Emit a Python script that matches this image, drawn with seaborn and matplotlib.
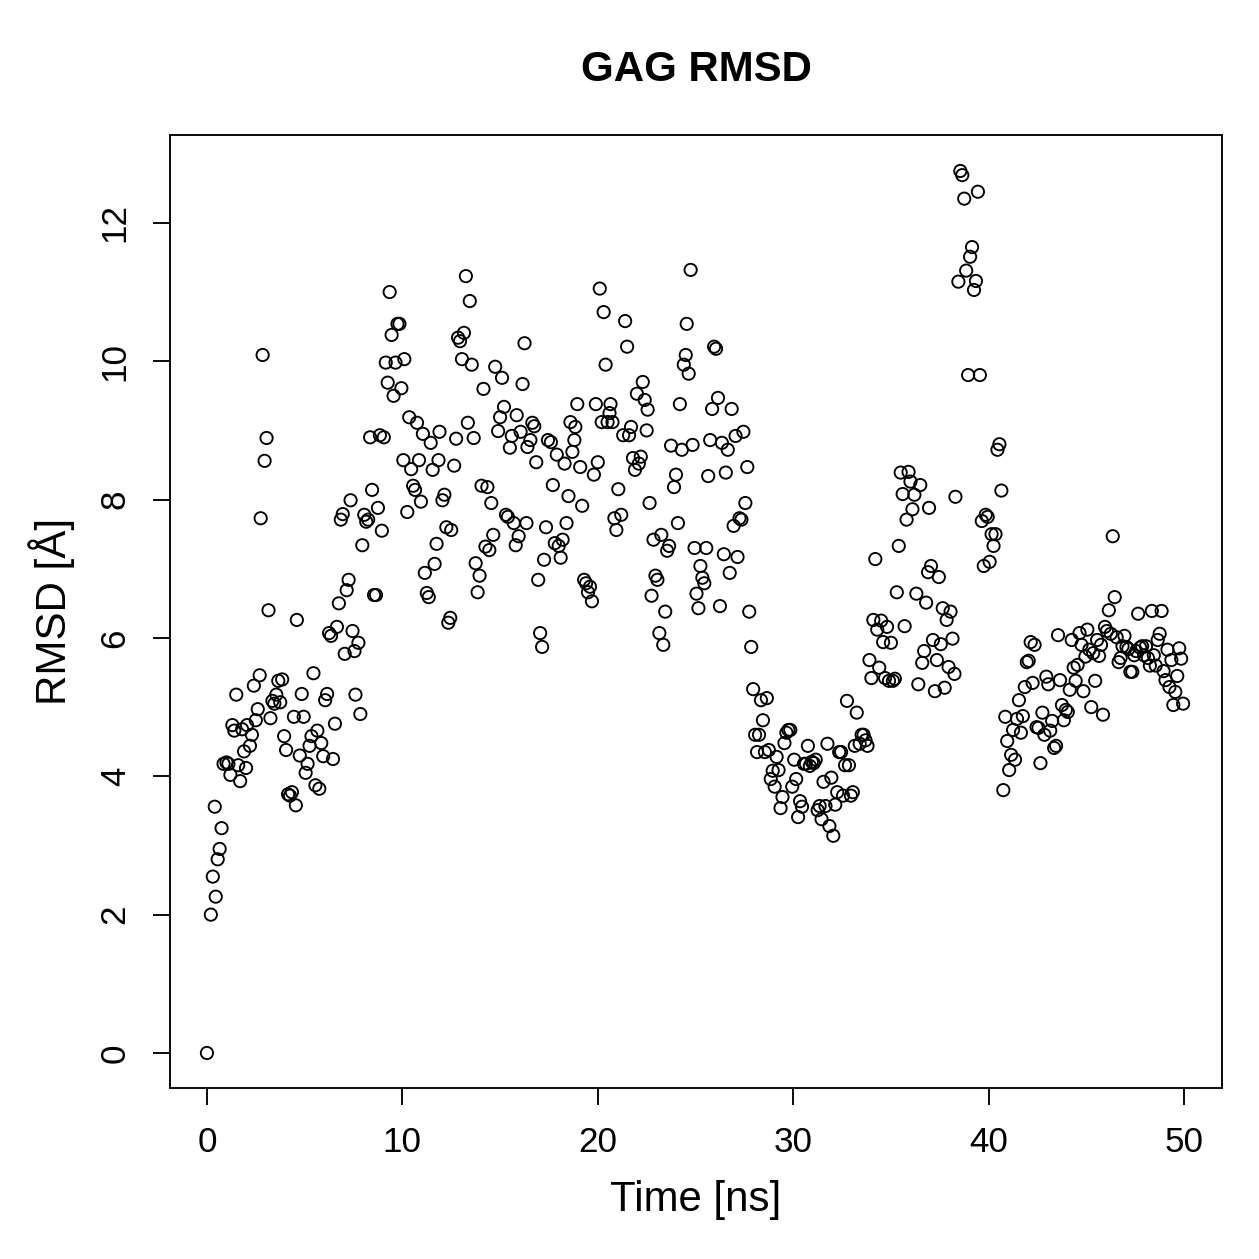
import matplotlib
matplotlib.use("Agg")
import matplotlib.pyplot as plt
import seaborn as sns
import pandas as pd

time_ns = [
0.0,0.2,0.3,0.4,0.45,0.55,0.65,0.75,0.85,1.0,1.1,1.2,1.3,1.4,1.5,1.6,1.7,1.8,1.9,2.0,
2.05,2.2,2.3,2.4,2.5,2.6,2.7,2.75,2.85,2.95,3.05,3.15,3.25,3.35,3.45,3.55,3.65,3.75,3.85,3.95,
4.05,4.15,4.25,4.35,4.45,4.55,4.6,4.75,4.85,4.95,5.05,5.15,5.25,5.35,5.45,5.55,5.65,5.75,5.85,5.95,
6.05,6.15,6.25,6.35,6.45,6.55,6.65,6.75,6.85,6.95,7.05,7.15,7.25,7.35,7.45,7.55,7.6,7.75,7.85,7.95,
8.05,8.15,8.25,8.35,8.45,8.55,8.65,8.75,8.85,8.95,9.05,9.15,9.25,9.35,9.45,9.55,9.65,9.75,9.85,9.95,
10.05,10.1,10.25,10.35,10.45,10.55,10.65,10.75,10.85,10.95,11.05,11.15,11.25,11.35,11.45,11.55,11.65,11.75,11.85,11.9,
12.05,12.15,12.25,12.35,12.45,12.5,12.65,12.75,12.85,12.95,13.05,13.15,13.25,13.35,13.45,13.55,13.65,13.75,13.85,13.95,
14.05,14.15,14.25,14.35,14.45,14.55,14.65,14.75,14.9,15.0,15.1,15.2,15.3,15.4,15.5,15.6,15.7,15.8,15.85,15.95,
16.05,16.15,16.25,16.35,16.4,16.55,16.65,16.75,16.85,16.95,17.05,17.15,17.25,17.35,17.45,17.6,17.7,17.8,17.9,18.0,
18.1,18.2,18.3,18.4,18.5,18.6,18.7,18.8,18.85,18.95,19.1,19.2,19.3,19.4,19.5,19.6,19.7,19.8,19.9,20.0,
20.1,20.2,20.3,20.4,20.5,20.6,20.65,20.75,20.85,20.95,21.05,21.2,21.3,21.4,21.5,21.6,21.7,21.8,21.9,22.0,
22.1,22.2,22.3,22.4,22.5,22.55,22.65,22.75,22.85,22.95,23.05,23.15,23.25,23.35,23.45,23.55,23.65,23.75,23.9,24.0,
24.1,24.2,24.3,24.4,24.5,24.55,24.65,24.75,24.85,24.95,25.05,25.15,25.25,25.35,25.45,25.55,25.65,25.75,25.85,25.95,
26.05,26.15,26.25,26.35,26.45,26.55,26.65,26.75,26.85,26.95,27.05,27.15,27.25,27.35,27.45,27.55,27.65,27.75,27.85,27.95,
28.05,28.15,28.25,28.35,28.45,28.55,28.65,28.75,28.85,28.95,29.05,29.15,29.25,29.35,29.45,29.55,29.65,29.75,29.85,29.95,
30.05,30.15,30.25,30.35,30.45,30.55,30.65,30.75,30.85,30.95,31.05,31.15,31.25,31.35,31.45,31.55,31.65,31.75,31.85,31.95,
32.05,32.15,32.25,32.35,32.45,32.55,32.65,32.75,32.85,32.95,33.05,33.15,33.25,33.4,33.5,33.6,33.7,33.8,33.9,34.0,
34.1,34.2,34.3,34.4,34.5,34.6,34.7,34.8,34.9,35.0,35.1,35.2,35.3,35.4,35.5,35.6,35.7,35.8,35.9,36.0,
36.1,36.2,36.3,36.4,36.5,36.6,36.7,36.8,36.9,36.95,37.05,37.15,37.25,37.35,37.45,37.55,37.65,37.75,37.85,37.95,
38.05,38.15,38.25,38.3,38.45,38.55,38.65,38.75,38.85,38.95,39.05,39.15,39.25,39.35,39.45,39.55,39.65,39.75,39.85,39.95,
40.05,40.15,40.25,40.35,40.45,40.55,40.65,40.75,40.85,40.95,41.05,41.15,41.25,41.35,41.45,41.55,41.65,41.75,41.85,41.95,
42.05,42.15,42.25,42.35,42.45,42.55,42.65,42.75,42.85,42.95,43.05,43.15,43.25,43.35,43.45,43.55,43.65,43.75,43.85,43.95,
44.05,44.15,44.25,44.35,44.45,44.55,44.65,44.75,44.85,44.95,45.05,45.15,45.25,45.35,45.45,45.55,45.65,45.75,45.85,45.95,
46.05,46.15,46.25,46.35,46.45,46.55,46.65,46.75,46.85,46.95,47.05,47.15,47.25,47.35,47.45,47.55,47.65,47.75,47.85,47.95,
48.05,48.15,48.25,48.35,48.45,48.55,48.65,48.75,48.85,48.95,49.05,49.15,49.25,49.35,49.45,49.55,49.65,49.75,49.85,49.95,
]

rmsd = [
0.0,2.0,2.55,3.56,2.26,2.8,2.95,3.25,4.18,4.2,4.18,4.02,4.74,4.66,5.18,4.16,3.93,4.68,4.36,4.12,
4.74,4.44,4.6,5.31,4.81,4.97,5.46,7.73,10.09,8.56,8.89,6.4,4.84,5.09,5.05,5.18,5.38,5.07,5.4,4.58,
4.38,3.74,3.72,3.77,4.86,3.58,6.26,4.3,5.19,4.86,4.05,4.18,4.44,4.58,5.49,3.87,4.66,3.82,4.48,4.29,
5.1,5.19,6.07,6.03,4.25,4.76,6.16,6.5,7.71,7.79,5.77,6.69,6.84,7.99,6.1,5.81,5.18,5.93,4.9,7.34,
7.78,7.68,7.71,8.9,8.14,6.62,6.62,7.88,8.93,7.55,8.9,9.98,9.69,11.0,10.38,9.5,9.98,10.54,10.54,9.61,
8.57,10.03,7.82,9.19,8.44,8.2,8.14,9.11,8.57,7.97,8.95,6.94,6.65,6.59,8.82,8.43,7.07,7.36,8.57,8.98,
7.99,8.07,7.6,6.22,6.29,7.56,8.49,8.88,10.34,10.29,10.03,10.41,11.23,9.11,10.87,9.95,8.89,7.08,6.66,6.9,
8.2,9.6,7.32,8.18,7.27,7.95,7.49,9.92,8.99,9.19,9.76,9.34,7.78,7.75,8.75,8.92,7.66,7.34,9.22,7.47,
8.98,9.67,10.26,7.66,8.76,8.86,9.11,9.06,8.54,6.84,6.07,5.87,7.13,7.6,8.86,8.83,8.21,7.37,8.65,7.33,
7.16,7.42,8.52,7.66,8.05,9.12,8.69,8.86,9.05,9.38,8.47,7.91,6.84,6.79,6.66,6.74,6.53,8.36,9.38,8.54,
11.05,9.12,10.71,9.95,9.12,9.25,9.38,9.12,7.73,7.56,8.15,7.78,8.93,10.58,10.21,8.93,9.05,8.6,8.43,9.53,
8.52,8.62,9.7,9.44,9.0,9.3,7.95,6.61,7.42,6.9,6.84,6.07,7.49,5.9,6.38,7.26,7.33,8.78,8.18,8.36,
7.66,9.38,8.72,9.95,10.09,10.54,9.82,11.32,8.79,7.3,6.64,6.43,7.04,6.87,6.79,7.3,8.34,8.86,9.31,10.21,
10.18,9.47,6.46,8.82,7.21,8.39,8.72,6.94,9.31,7.62,8.92,7.17,7.73,7.71,8.98,7.95,8.47,6.38,5.87,5.26,
4.6,4.35,4.6,5.1,4.81,4.35,5.13,4.38,3.96,4.08,3.85,4.28,4.09,3.54,3.7,4.48,4.63,4.67,4.67,3.85,
4.24,3.96,3.41,3.64,3.56,4.18,4.18,4.44,4.15,4.21,4.19,4.24,3.51,3.57,3.38,3.92,3.57,4.47,3.28,3.98,
3.14,3.59,3.77,4.35,4.35,3.72,4.16,5.09,4.16,3.72,3.77,4.44,4.92,4.47,4.6,4.6,4.52,4.44,5.68,5.42,
6.26,7.14,6.12,5.57,6.25,5.94,5.42,6.16,5.38,5.93,5.38,5.41,6.66,7.33,8.39,8.08,6.17,7.71,8.4,8.26,
7.86,8.07,6.64,5.33,8.21,5.64,5.81,6.51,6.95,7.88,7.04,5.97,5.23,5.68,6.88,5.91,6.43,5.28,6.26,5.58,
6.38,5.99,5.48,8.04,11.15,12.75,12.69,12.35,11.31,9.8,11.51,11.65,11.03,11.16,12.45,9.8,7.69,7.04,7.78,7.75,
7.1,7.5,7.33,7.5,8.72,8.8,8.13,3.8,4.86,4.51,4.09,4.31,4.67,4.24,4.83,5.1,4.63,4.87,5.29,5.65,
5.67,5.94,5.35,5.9,4.71,4.7,4.19,4.92,4.6,5.44,5.33,4.66,4.8,4.41,4.44,6.04,5.39,5.03,4.81,4.96,
4.93,5.25,5.97,5.57,5.38,5.61,6.07,5.9,5.23,5.73,6.12,5.83,5.0,5.78,5.38,5.97,5.74,5.9,4.89,6.16,
6.1,6.4,6.06,7.47,6.59,6.01,5.65,5.71,5.88,6.03,5.87,5.84,5.51,5.51,5.75,5.81,6.35,5.86,5.88,5.75,
5.88,5.71,5.6,6.39,5.75,5.6,5.97,6.06,6.39,5.52,5.39,5.83,5.29,5.68,5.03,5.22,5.45,5.85,5.7,5.05,
]

x_ticks = [0, 10, 20, 30, 40, 50]
y_ticks = [0, 2, 4, 6, 8, 10, 12]

df = pd.DataFrame({"Time": time_ns[:len(rmsd)], "RMSD": rmsd[:len(time_ns)]})

sns.set_style("white")
plt.rcParams['font.family'] = ['Liberation Sans', 'DejaVu Sans']
plt.rcParams['text.color'] = 'black'
plt.rcParams['axes.labelcolor'] = 'black'
plt.rcParams['xtick.color'] = 'black'
plt.rcParams['ytick.color'] = 'black'

W = 1259
fig = plt.figure(figsize=(W / 180, W / 180), dpi=180)
ax = fig.add_axes([170 / W, 1 - 1088 / W, (1222 - 170) / W, (1088 - 135) / W])

sns.scatterplot(data=df, x="Time", y="RMSD", ax=ax, s=24, marker="o",
                facecolors="none", edgecolor="black", linewidth=0.75, legend=False)

ax.set_xlim(-1.89, 51.94)
ax.set_ylim(-0.506, 13.27)
ax.set_xticks(x_ticks)
ax.set_yticks(y_ticks)
ax.set_xticklabels([str(v) for v in x_ticks], fontsize=14, color="black")
ax.set_yticklabels([str(v) for v in y_ticks], fontsize=14, rotation=90, va="center",
                   color="black")
ax.tick_params(axis="both", direction="out", length=6.8, width=0.75, pad=8.5,
               bottom=True, left=True, colors="black")
for sp in ax.spines.values():
    sp.set_visible(True)
    sp.set_color("black")
    sp.set_linewidth(0.75)
ax.set_xlabel("")
ax.set_ylabel("")

fig.text(696 / W, 1 - 1200 / W, "Time [ns]", ha="center", va="center", fontsize=16.8,
         color="black")
fig.text(52 / W, 1 - 611 / W, "RMSD [Å]", ha="center", va="center", fontsize=16.8,
         rotation=90, color="black")
fig.text(696 / W, 1 - 70 / W, "GAG RMSD", ha="center", va="center", fontsize=16.8,
         fontweight="bold", color="black")

fig.savefig("out.png", dpi=180, facecolor="white")
